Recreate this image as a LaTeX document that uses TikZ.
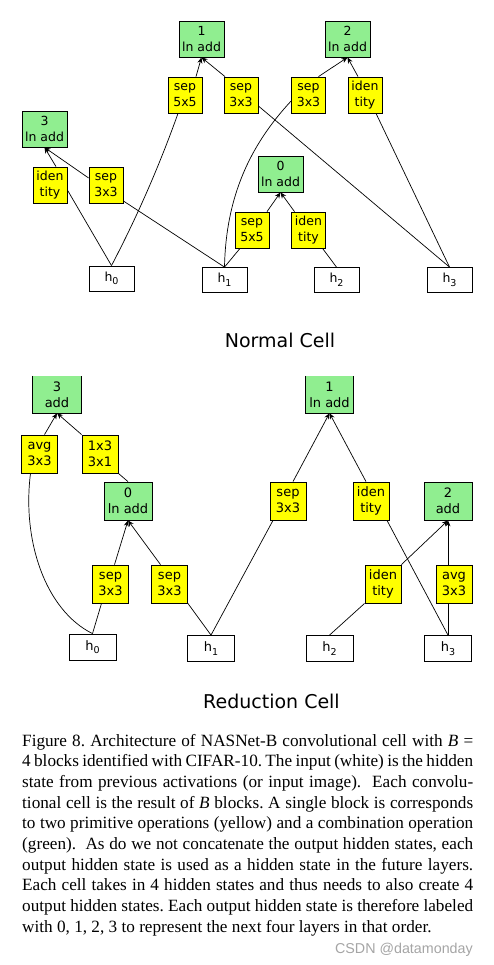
\documentclass[tikz,border=0pt]{standalone}
\usepackage{fontspec}
\setmainfont{Liberation Serif}
\newfontfamily\dvfont{DejaVu Sans}
\newfontfamily\lsfont{Liberation Sans}
\usetikzlibrary{arrows.meta}
\definecolor{opyellow}{RGB}{255,255,0}
\definecolor{addgreen}{RGB}{144,238,144}
\definecolor{wmgray}{RGB}{165,165,165}
\newcommand{\hlab}[1]{h\raisebox{-3.5pt}{\fontsize{9.5}{9.5}\selectfont #1}}
\tikzset{
  nfont/.style={font=\dvfont\fontsize{12.5}{15.3}\selectfont},
  rfont/.style={font=\dvfont\fontsize{13}{15.8}\selectfont},
  opbox/.style={draw, line width=0.8pt, fill=opyellow, inner sep=0pt, align=center, minimum width=34pt, minimum height=36pt, nfont},
  addbox/.style={draw, line width=0.8pt, fill=addgreen, inner sep=0pt, align=center, minimum width=45pt, minimum height=36pt, nfont},
  hbox/.style={draw, line width=0.8pt, fill=white, inner sep=0pt, align=center, minimum width=45pt, minimum height=25pt, nfont},
  ropbox/.style={opbox, minimum width=36pt, minimum height=38pt, rfont},
  raddbox/.style={addbox, minimum width=48pt, minimum height=38pt, rfont},
  raddopen/.style={fill=addgreen, inner sep=0pt, align=center, minimum width=48pt, minimum height=37pt, rfont},
  rhbox/.style={hbox, minimum width=47pt, minimum height=26pt, rfont},
  ln/.style={line width=0.7pt},
  arr/.style={line width=0.7pt, -{Stealth[length=6pt,width=5pt]}},
  ttl/.style={font=\dvfont\fontsize{19}{22}\selectfont, anchor=base},
}
\begin{document}
\begin{tikzpicture}[x=1pt, y=-1pt]
\useasboundingbox (0,0) rectangle (493,965);
\fill[white] (0,0) rectangle (493,965);

% ---------------- Normal cell ----------------
\node[addbox] (n1) at (201.5,39) {1\\ln add};
\node[addbox] (n2) at (347.5,39) {2\\ln add};
\node[addbox] (n3) at (44.5,129) {3\\ln add};
\node[addbox] (n0) at (280.5,174) {0\\ln add};
\node[opbox] (s55) at (185,95) {sep\\5x5};
\node[opbox] (s3a) at (241,95) {sep\\3x3};
\node[opbox] (s3b) at (308.5,95) {sep\\3x3};
\node[opbox] (id2) at (365,95) {iden\\tity};
\node[opbox] (id3) at (50,185) {iden\\tity};
\node[opbox] (s3) at (106,185) {sep\\3x3};
\node[opbox] (s50) at (252,230) {sep\\5x5};
\node[opbox] (id0) at (308.5,230) {iden\\tity};
\node[hbox] (h0) at (111.5,278.5) {\hlab{0}};
\node[hbox] (h1) at (224.5,280) {\hlab{1}};
\node[hbox] (h2) at (336.5,280) {\hlab{2}};
\node[hbox] (h3) at (449.5,280) {\hlab{3}};

\draw[ln] (h0.north) -- ([yshift=-5pt]id3.east);
\draw[ln] (h0.north) .. controls (138,215) and (160,164) .. ([xshift=-7pt]s55.south);
\draw[ln] (h1.north) -- ([yshift=-16pt]s3.east);
\draw[ln] (h1.north) .. controls (226,190) and (255,140) .. ([yshift=-6pt]s3b.west);
\draw[ln] (h1.north) -- ([xshift=-12pt]s50.south);
\draw[ln] (h2.north) -- ([xshift=14pt]id0.south);
\draw[ln] (h3.north) -- ([yshift=-11pt]s3a.east);
\draw[ln] (h3.north) -- ([xshift=11pt]id2.south);

\draw[arr] ([xshift=11pt]s55.north) -- (n1.south);
\draw[arr] ([xshift=-16pt]s3a.north) -- (n1.south);
\draw[arr] ([xshift=10pt]s3b.north) -- (n2.south);
\draw[arr] ([xshift=-7pt]id2.north) -- (n2.south);
\draw[arr] ([xshift=6pt]id3.north) -- (n3.south);
\draw[arr] ([yshift=7pt]s3.west) -- (n3.south);
\draw[arr] ([xshift=15pt]s50.north) -- (n0.south);
\draw[arr] ([xshift=-14pt]id0.north) -- (n0.south);

\node[ttl] (tnormal) at (280,347) {Normal Cell};

% ---------------- Reduction cell ----------------
\node[raddopen] (rn3) at (57,394.5) {3\\add};
\draw[line width=0.8pt] (rn3.north west) -- (rn3.south west) -- (rn3.south east) -- (rn3.north east);
\node[raddopen] (rn1) at (329.5,394.5) {1\\ln add};
\draw[line width=0.8pt] (rn1.north west) -- (rn1.south west) -- (rn1.south east) -- (rn1.north east);
\node[raddbox] (rn0) at (128,501) {0\\ln add};
\node[raddbox] (rn2) at (448,501) {2\\add};
\node[ropbox] (ravg3) at (39.5,454) {avg\\3x3};
\node[ropbox] (r13) at (100,454) {1x3\\3x1};
\node[ropbox] (rs1) at (288,501) {sep\\3x3};
\node[ropbox] (rid1) at (371,501) {iden\\tity};
\node[ropbox] (rs0a) at (110.5,584) {sep\\3x3};
\node[ropbox] (rs0b) at (169.5,584) {sep\\3x3};
\node[ropbox] (rid2) at (383,584) {iden\\tity};
\node[ropbox] (ravg2) at (454,584) {avg\\3x3};
\node[rhbox] (rh0) at (92.5,647) {\hlab{0}};
\node[rhbox] (rh1) at (211,648.5) {\hlab{1}};
\node[rhbox] (rh2) at (329.5,648.5) {\hlab{2}};
\node[rhbox] (rh3) at (448,648.5) {\hlab{3}};

\draw[ln] (rh0.north) .. controls (45,610) and (22,540) .. ([xshift=-9pt]ravg3.south);
\draw[ln] (rh0.north) -- ([xshift=-9pt]rs0a.south);
\draw[ln] (rh1.north) -- (rs0b.south east);
\draw[ln] (rh1.north) -- ([xshift=-15pt]rs1.south);
\draw[ln] (rh3.north) -- ([xshift=16pt]rid1.south);
\draw[ln] (rh2.north) -- (rid2.south west);
\draw[ln] (rh3.north) -- ([xshift=-6pt]ravg2.south);
\draw[ln] (rn0.north) -- (r13.south east);

\draw[arr] ([xshift=5pt]ravg3.north) -- (rn3.south);
\draw[arr] (r13.north west) -- (rn3.south);
\draw[arr] ([xshift=4pt]rs0a.north) -- (rn0.south);
\draw[arr] ([xshift=-9pt]rs0b.north) -- (rn0.south);
\draw[arr] ([xshift=5pt]rs1.north) -- (rn1.south);
\draw[arr] ([xshift=-5pt]rid1.north) -- (rn1.south);
\draw[arr] (rid2.north east) -- (rn2.south);
\draw[arr] ([xshift=-6pt]ravg2.north) -- (rn2.south);

\node[ttl] (tred) at (271.5,708) {Reduction Cell};

% ---------------- Caption ----------------
\node[anchor=base west, inner sep=0pt, text width=451pt, align=justify,
      font=\fontsize{17.2}{20.7}\selectfont] (cap) at (22,746)
{\frenchspacing\hyphenpenalty=10000\exhyphenpenalty=10000
Figure 8. Architecture of NASNet-B convolutional cell with \textit{B}~=\linebreak
4 blocks identified with CIFAR-10. The input (white) is the hidden\linebreak
state from previous activations (or input image).\ \ Each convolu-\linebreak
tional cell is the result of \textit{B} blocks. A single block is corresponds\linebreak
to two primitive operations (yellow) and a combination operation\linebreak
(green).\ \ As do we not concatenate the output hidden states, each\linebreak
output hidden state is used as a hidden state in the future layers.\linebreak
Each cell takes in 4 hidden states and thus needs to also create 4\linebreak
output hidden states. Each output hidden state is therefore labeled\linebreak
with 0, 1, 2, 3 to represent the next four layers in that order.\par};

\node[anchor=base east, inner sep=0pt, text=wmgray, font=\lsfont\fontsize{14.3}{16}\selectfont] (wm) at (473,953) {CSDN @datamonday};
\end{tikzpicture}
\end{document}
